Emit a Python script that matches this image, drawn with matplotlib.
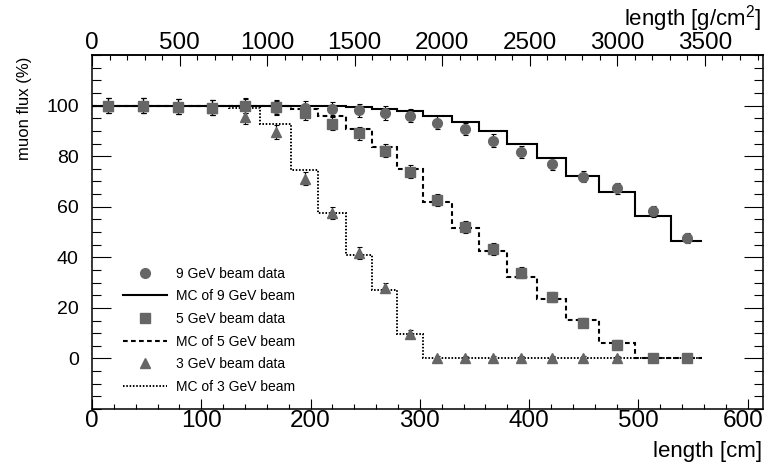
import numpy as np
import matplotlib
matplotlib.use('Agg')
from matplotlib import pyplot as plt
from matplotlib import transforms as mtransforms
from matplotlib.lines import Line2D
from matplotlib.ticker import MultipleLocator, FixedLocator

plt.rcParams['font.family'] = ['Liberation Sans', 'DejaVu Sans']
plt.rcParams['mathtext.fontset'] = 'custom'
plt.rcParams['mathtext.rm'] = 'Liberation Sans'
plt.rcParams['mathtext.it'] = 'Liberation Sans:italic'

# bin edges of the MC histograms [cm]
edges = [0, 30, 63, 95, 125, 154, 182, 207, 232, 256, 279,
         303, 329, 354, 380, 407, 434, 464, 497, 530, 558]

# MC muon flux per bin (%)
mc9 = [100, 100, 100, 100, 100, 100, 99.9, 99.8, 99.4, 98.8,
       98.0, 95.9, 93.6, 89.9, 84.8, 79.1, 72.3, 66.0, 56.5, 46.3]
mc5 = [100, 100, 100, 100, 100, 99.7, 98.6, 96.0, 90.8, 83.8,
       74.8, 62.0, 51.6, 42.4, 32.3, 23.7, 15.2, 6.0, 0.3, 0.1]
mc3 = [100, 100, 100, 100, 99.1, 92.8, 74.7, 57.6, 41.1, 27.0,
       9.8, 0, 0, 0, 0, 0, 0, 0, 0, 0]

# beam data
xdata = [15, 47, 79, 110, 140, 168, 195, 220, 244, 268,
         291, 316, 341, 367, 393, 421, 449, 480, 513, 544]
d9 = [100.0, 100.0, 99.6, 99.2, 99.8, 98.9, 99.2, 98.6, 98.1, 97.1,
      96.0, 93.3, 90.7, 86.1, 81.7, 76.9, 71.9, 67.3, 58.2, 47.6]
e9 = [2.9, 2.9, 2.9, 2.9, 2.8, 2.8, 2.8, 2.7, 2.7, 2.7,
      2.6, 2.6, 2.5, 2.5, 2.4, 2.4, 2.3, 2.2, 2.1, 2.0]
d5 = [100.0, 100.0, 99.6, 99.2, 100.0, 99.4, 96.9, 92.9, 89.0, 82.1,
      73.9, 62.6, 52.0, 43.3, 33.9, 24.3, 14.2, 5.5, 0.0, 0.0]
e5 = [2.9, 2.9, 2.9, 2.9, 2.8, 2.8, 2.8, 2.7, 2.6, 2.6,
      2.5, 2.4, 2.3, 2.2, 2.1, 2.0, 1.9, 1.8, 1.5, 1.5]
d3 = [100.0, 100.0, 99.6, 99.2, 95.6, 89.6, 71.1, 57.4, 41.7, 27.9,
      9.6, 0, 0, 0, 0, 0, 0, 0]
e3 = [2.9, 2.9, 2.9, 2.9, 2.8, 2.7, 2.5, 2.4, 2.2, 1.8,
      1.6, 0.8, 0.8, 0.8, 0.8, 0.8, 0.8, 0.8]

xticks = [0, 100, 200, 300, 400, 500, 600]
yticks = [0, 20, 40, 60, 80, 100]
gticks = [0, 500, 1000, 1500, 2000, 2500, 3000, 3500]
density = 6.24  # g/cm3, cm -> g/cm2

grey = '#666666'
dash = (0, (2.25, 1.6))
dot = (0, (0.8, 0.9))

fig = plt.figure(figsize=(7.66, 4.66), dpi=100)
ax = fig.add_axes([92/766, 57/466, 671/766, 354/466])
ax.set_xlim(0, 614)
ax.set_ylim(-20, 120)

ax.stairs(mc9, edges, baseline=None, color='k', lw=1.5, zorder=2)
ax.stairs(mc5, edges, baseline=None, color='k', lw=1.5, linestyle=dash, zorder=2)
ax.stairs(mc3, edges, baseline=None, color='k', lw=1.4, linestyle=dot, zorder=2)

ebopt = dict(ls='none', mfc=grey, mec=grey, ecolor='k', elinewidth=0.8,
             capsize=1.8, capthick=0.8, zorder=3)
ax.errorbar(xdata, d9, yerr=e9, marker='o', ms=7, **ebopt)
ax.errorbar(xdata, d5, yerr=e5, marker='s', ms=7, **ebopt)
ax.errorbar(xdata[:len(d3)], d3, yerr=e3, marker='^', ms=7, **ebopt)

# ticks
ax.xaxis.set_major_locator(FixedLocator(xticks))
ax.xaxis.set_minor_locator(MultipleLocator(20))
ax.yaxis.set_major_locator(FixedLocator(yticks))
ax.yaxis.set_minor_locator(MultipleLocator(5))
ax.tick_params(axis='both', which='both', direction='in', top=False, right=True)
ax.tick_params(axis='x', which='major', length=7.5, width=0.8, labelsize=17.5, pad=1)
ax.tick_params(axis='x', which='minor', length=3.6, width=0.8)
ax.tick_params(axis='y', which='major', length=13.7, width=0.8, labelsize=14, pad=9.5)
ax.tick_params(axis='y', which='minor', length=6.5, width=0.8)
for s in ax.spines.values():
    s.set_linewidth(1.1)

sec = ax.secondary_xaxis('top', functions=(lambda x: x * density, lambda x: x / density))
sec.xaxis.set_major_locator(FixedLocator(gticks))
sec.xaxis.set_minor_locator(MultipleLocator(100))
sec.tick_params(which='both', direction='in', width=0.8)
sec.tick_params(which='major', length=8, labelsize=17.5, pad=0.5)
sec.tick_params(which='minor', length=3.6)
sec.spines['top'].set_linewidth(1.1)

# titles
ax.set_xlabel('length [cm]', fontsize=16, loc='right')
ax.xaxis.set_label_coords(0.998, -0.1364)
ax.xaxis.label.set_va('baseline')

sec.set_xlabel('length [g/cm$^2$]', fontsize=16, loc='right')
sec.xaxis.set_label_coords(0.998, 1.082, transform=ax.transAxes)
sec.xaxis.label.set_va('baseline')

ax.set_ylabel('muon flux (%)', fontsize=12, loc='top')
ax.yaxis.label.set_rotation_mode('anchor')
ax.yaxis.label.set_ha('right')
ax.yaxis.label.set_va('center')
ax.yaxis.set_label_coords(-0.1013, 0.9944)

handles = [
    Line2D([], [], ls='none', marker='o', ms=7, mfc=grey, mec=grey),
    Line2D([], [], color='k', lw=1.5),
    Line2D([], [], ls='none', marker='s', ms=7, mfc=grey, mec=grey),
    Line2D([], [], color='k', lw=1.5, ls=dash),
    Line2D([], [], ls='none', marker='^', ms=7, mfc=grey, mec=grey),
    Line2D([], [], color='k', lw=1.4, ls=dot),
]
labels = ['9 GeV beam data', 'MC of 9 GeV beam', '5 GeV beam data',
          'MC of 5 GeV beam', '3 GeV beam data', 'MC of 3 GeV beam']
ax.legend(handles, labels, loc='upper left', bbox_to_anchor=(0.0462, 0.402),
          frameon=False, fontsize=10, handlelength=3.17, handletextpad=0.65,
          labelspacing=0.62, borderpad=0, borderaxespad=0)

# keep the "600" label inside the picture, as in the original
last = ax.xaxis.get_major_ticks()[-1]
last.label1.set_transform(last.label1.get_transform() +
                          mtransforms.ScaledTranslation(-0.05, 0, fig.dpi_scale_trans))

fig.savefig('out.png', dpi=100, facecolor='white')
